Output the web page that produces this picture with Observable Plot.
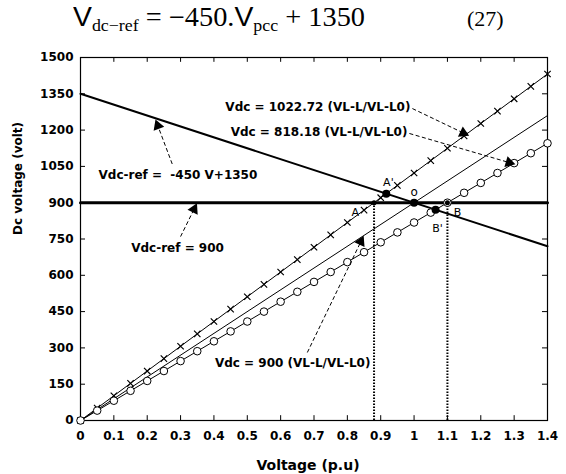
<!DOCTYPE html>
<html><head><meta charset="utf-8">
<script src="https://cdn.jsdelivr.net/npm/d3@7"></script>
<script src="https://cdn.jsdelivr.net/npm/@observablehq/plot@0.6"></script>
<style>
body{margin:0;background:#fff;width:566px;height:474px;overflow:hidden}
#title{position:relative;height:40px;font-family:"Liberation Serif",serif;color:#000}
#eq{position:absolute;left:73px;top:4px;font-size:27px;line-height:1;transform-origin:left top;transform:scaleX(1.05);white-space:nowrap}
#eq .v{font-family:"Liberation Sans",sans-serif}
#eq sub{font-size:17px;vertical-align:-5px;line-height:0}
#num{position:absolute;left:467px;top:8px;font-size:22px;line-height:1}
#chart svg{display:block}
</style></head>
<body>
<div id="title"><div id="eq"><span class="v">V</span><sub>dc−ref</sub> = −450.<span class="v">V</span><sub>pcc</sub> + 1350</div><div id="num">(27)</div></div>
<div id="chart"></div>
<script>
// voltage samples (p.u) where markers are drawn
const voltage = [0,0.05,0.1,0.15,0.2,0.25,0.3,0.35,0.4,0.45,0.5,0.55,0.6,0.65,0.7,0.75,0.8,0.85,0.9,0.95,1,1.05,1.1,1.15,1.2,1.25,1.3,1.35,1.4];
const vdc1022 = [0,51.1,102.3,153.4,204.5,255.7,306.8,358.0,409.1,460.2,511.4,562.5,613.6,664.8,715.9,767.0,818.2,869.3,920.5,971.6,1022.7,1073.9,1125.0,1176.1,1227.3,1278.4,1329.5,1380.7,1431.8];
const vdc818 = [0,40.9,81.8,122.7,163.6,204.5,245.5,286.4,327.3,368.2,409.1,450.0,490.9,531.8,572.7,613.6,654.5,695.5,736.4,777.3,818.2,859.1,900.0,940.9,981.8,1022.7,1063.6,1104.5,1145.5];
const vdc900X = [0, 1.4];
const vdc900Y = [0, 1260];
const refX = [0, 1.4];
const refY = [1350, 720];
const flatX = [0, 1.4];
const flatY = [900, 900];
const dropX = [0.88, 1.1];
const dropY = [900, 900];
const bigPtX = [0.9167, 1.0, 1.0645];
const bigPtY = [937.5, 900, 871.2];
const smallPtX = [0.88, 1.1];
const smallPtY = [900, 900];
const xTicks = [0,0.1,0.2,0.3,0.4,0.5,0.6,0.7,0.8,0.9,1,1.1,1.2,1.3,1.4];
const yTicks = [0,150,300,450,600,750,900,1050,1200,1350,1500];
const xLabel = "Voltage (p.u)";
const yLabel = "Dc voltage (volt)";

const W = 566, H = 434, ML = 80, MR = 19, MT = 17, MB = 54;
const kx = (W - ML - MR) / 1.4, ky = (H - MT - MB) / 1500;
const fmt = d => String(+d.toFixed(1));
const ann = (txt, o) => Plot.text([txt], Object.assign({fontSize: 12, fontWeight: "bold", fill: "black"}, o));
function dashedArrow(x1, y1, x2, y2) {
  const dxp = (x2 - x1) * kx, dyp = -(y2 - y1) * ky;
  const len = Math.hypot(dxp, dyp);
  const ux = dxp / len, uy = dyp / len;
  const back = 3.5;
  const cx = x2 - ux * back / kx, cy = y2 + uy * back / ky;
  const rot = Math.atan2(dyp, dxp) * 180 / Math.PI + 90;
  return [
    Plot.link([0], {x1, y1, x2: x2 - ux * 5 / kx, y2: y2 + uy * 5 / ky, stroke: "black", strokeWidth: 1, strokeDasharray: "4,2.5"}),
    Plot.dot([0], {x: cx, y: cy, symbol: "triangle", r: 4.2, fill: "black", stroke: "none", rotate: rot})
  ];
}

const chart = Plot.plot({
  width: W, height: H,
  marginTop: MT, marginBottom: MB, marginLeft: ML, marginRight: MR,
  x: {domain: [0, 1.4]},
  y: {domain: [0, 1500]},
  style: {fontFamily: "'DejaVu Sans', sans-serif", fontWeight: "bold", fontSize: "12px", color: "black", background: "white"},
  marks: [
    Plot.axisX({ticks: xTicks, tickSize: 0, tickPadding: 11, tickFormat: fmt, label: null, fontSize: 12, fontWeight: "bold", fill: "black"}),
    Plot.axisY({ticks: yTicks, tickSize: 0, tickPadding: 7, tickFormat: d => String(d), label: null, fontSize: 12, fontWeight: "bold", fill: "black"}),
    Plot.ruleX(xTicks, {x: d => d, y1: 0, y2: 20, stroke: "black"}),
    Plot.ruleX(xTicks, {x: d => d, y1: 1480, y2: 1500, stroke: "black"}),
    Plot.ruleY(yTicks, {y: d => d, x1: 0, x2: 0.015, stroke: "black"}),
    Plot.ruleY(yTicks, {y: d => d, x1: 1.385, x2: 1.4, stroke: "black"}),
    Plot.frame({stroke: "black", strokeWidth: 1.2}),
    Plot.ruleX(dropX, {x: dropX, y1: 0, y2: dropY, stroke: "black", strokeWidth: 2, strokeDasharray: "1.5,1.5"}),
    Plot.line(flatX, {x: flatX, y: flatY, stroke: "black", strokeWidth: 3}),
    Plot.line(refX, {x: refX, y: refY, stroke: "black", strokeWidth: 2}),
    Plot.line(vdc900X, {x: vdc900X, y: vdc900Y, stroke: "black", strokeWidth: 1}),
    Plot.line(voltage, {x: voltage, y: vdc1022, stroke: "black", strokeWidth: 1}),
    Plot.dot(voltage, {x: voltage, y: vdc1022, symbol: "times", r: 3, stroke: "black", strokeWidth: 1.2}),
    Plot.line(voltage, {x: voltage, y: vdc818, stroke: "black", strokeWidth: 1}),
    Plot.dot(voltage, {x: voltage, y: vdc818, symbol: "circle", r: 3.8, stroke: "black", fill: "white", strokeWidth: 1}),
    Plot.dot(bigPtX, {x: bigPtX, y: bigPtY, r: 4, fill: "black"}),
    Plot.dot(smallPtX, {x: smallPtX, y: smallPtY, r: 2.5, fill: "black"}),
    Plot.text(["A'"], {x: 0.923, y: 985, fontSize: 11, fontWeight: "normal", fill: "black"}),
    Plot.text(["o"], {x: 1.0, y: 945, fontSize: 12, fontWeight: "normal", fill: "black"}),
    Plot.text(["A"], {x: 0.824, y: 858, fontSize: 11, fontWeight: "normal", fill: "black"}),
    Plot.text(["B"], {x: 1.13, y: 858, fontSize: 11, fontWeight: "normal", fill: "black"}),
    Plot.text(["B'"], {x: 1.07, y: 793, fontSize: 11, fontWeight: "normal", fill: "black"}),
    ann("Vdc = 1022.72 (VL-L/VL-L0)", {x: 0.989, y: 1293, textAnchor: "end"}),
    ...dashedArrow(0.995, 1289, 1.157, 1182),
    ann("Vdc = 818.18 (VL-L/VL-L0)", {x: 0.98, y: 1190, textAnchor: "end"}),
    ...dashedArrow(0.986, 1186, 1.295, 1062),
    ann("Vdc-ref =  -450 V+1350", {x: 0.054, y: 1012, textAnchor: "start"}),
    ...dashedArrow(0.275, 1060, 0.228, 1232),
    ann("Vdc-ref = 900", {x: 0.291, y: 711}),
    ...dashedArrow(0.30, 760, 0.345, 886),
    ann("Vdc = 900 (VL-L/VL-L0)", {x: 0.869, y: 236, textAnchor: "end"}),
    ...dashedArrow(0.68, 281, 0.845, 752),
    Plot.text([xLabel], {frameAnchor: "bottom", dy: 45, dx: -6, fontSize: 14, fontWeight: "bold", fill: "black", lineAnchor: "middle"}),
    Plot.text([yLabel], {frameAnchor: "left", dx: -62, dy: -4, rotate: -90, fontSize: 12, fontWeight: "bold", fill: "#000", stroke: "none", lineAnchor: "middle"})
  ]
});
document.getElementById("chart").appendChild(chart);
</script>
</body></html>
